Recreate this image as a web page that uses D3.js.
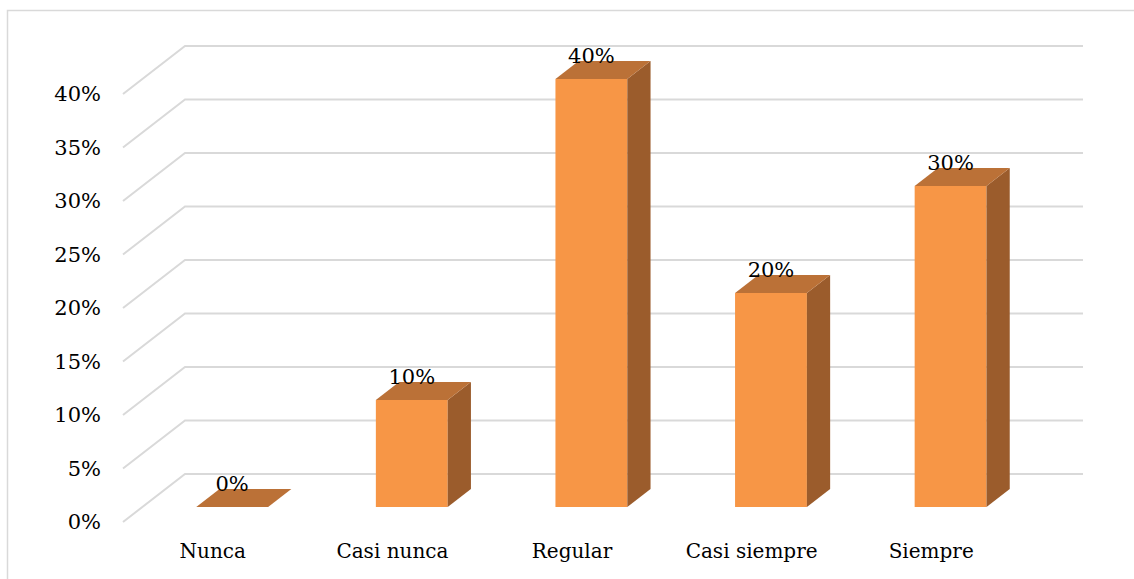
<!DOCTYPE html>
<html>
<head>
<meta charset="utf-8">
<script src="https://cdn.jsdelivr.net/npm/d3@7"></script>
<style>
  html, body { margin: 0; padding: 0; background: #ffffff; }
  svg { display: block; }
</style>
</head>
<body>
<svg id="chart" width="1134" height="579"></svg>
<script>
// Chart data
const categories = ["Nunca", "Casi nunca", "Regular", "Casi siempre", "Siempre"];
const values = [0, 0.10, 0.40, 0.20, 0.30];
const tickValues = [0, 0.05, 0.10, 0.15, 0.20, 0.25, 0.30, 0.35, 0.40];

const FONT = "'DejaVu Serif', serif";
const NUM_SIZE = 21;
const CAT_SIZE = 20;

const svg = d3.select("#chart");
const W = 1134, H = 579;

// Outer chart frame (top and left edges visible)
svg.append("path")
  .attr("d", `M7.5,${H} L7.5,10.5 L${W},10.5`)
  .attr("fill", "none")
  .attr("stroke", "#d9d9d9")
  .attr("stroke-width", 1.5);

// 3D geometry: front floor edge and depth offset of the back wall
const floorFrontY = 522;
const floorLeft = 123, floorRight = 1021;
const depthDX = 62, depthDY = -48;
// bars sit centered in depth, occupying this fraction of it
const barDepth = 18 / 48;
const barD0 = (1 - barDepth) / 2;

const x = d3.scaleBand().domain(categories).range([floorLeft, floorRight])
  .paddingInner(0.6).paddingOuter(0.3);
const xLabel = d3.scaleBand().domain(categories).range([floorLeft, floorRight]);
const h = d3.scaleLinear().domain([0, 0.4]).range([0, 428]);

const pct = d3.format(".0%");

// Gridlines: diagonal on the side wall + horizontal on the back wall
const grid = svg.append("g").attr("stroke", "#d9d9d9").attr("stroke-width", 2).attr("fill", "none");
tickValues.forEach(t => {
  const yf = floorFrontY - h(t);
  const yb = yf + depthDY;
  grid.append("path")
    .attr("d", `M${floorLeft},${yf} L${floorLeft + depthDX},${yb} L${floorRight + depthDX},${yb}`);
});

// Y-axis labels
svg.append("g").selectAll("text")
  .data(tickValues)
  .join("text")
  .attr("x", 101)
  .attr("y", d => floorFrontY - h(d))
  .attr("dy", "0.35em")
  .attr("text-anchor", "end")
  .attr("font-family", FONT)
  .attr("font-size", NUM_SIZE)
  .attr("fill", "#000")
  .text(d => pct(d));

// Category labels
svg.append("g").selectAll("text")
  .data(categories)
  .join("text")
  .attr("x", d => xLabel(d) + xLabel.bandwidth() / 2)
  .attr("y", 558)
  .attr("text-anchor", "middle")
  .attr("font-family", FONT)
  .attr("font-size", CAT_SIZE)
  .attr("fill", "#000")
  .text(d => d);

// Bars
const bdx = depthDX * barDepth, bdy = depthDY * barDepth;
const baseX = depthDX * barD0, baseY = floorFrontY + depthDY * barD0;

const bars = svg.append("g").selectAll("g")
  .data(categories.map((c, i) => ({ c, v: values[i] })))
  .join("g");

bars.each(function(d) {
  const g = d3.select(this);
  const xl = x(d.c) + baseX;
  const xr = xl + x.bandwidth();
  const yb = baseY;
  const yt = baseY - h(d.v);
  if (d.v > 0) {
    g.append("rect")
      .attr("x", xl).attr("y", yt)
      .attr("width", xr - xl).attr("height", yb - yt)
      .attr("fill", "#f79646");
    g.append("path")
      .attr("d", `M${xr},${yt} L${xr + bdx},${yt + bdy} L${xr + bdx},${yb + bdy} L${xr},${yb} Z`)
      .attr("fill", "#9b5c2c");
  }
  g.append("path")
    .attr("d", `M${xl},${yt} L${xr},${yt} L${xr + bdx},${yt + bdy} L${xl + bdx},${yt + bdy} Z`)
    .attr("fill", "#bb7137");
  g.append("text")
    .attr("x", (xl + xr) / 2)
    .attr("y", yt - 16)
    .attr("text-anchor", "middle")
    .attr("font-family", FONT)
    .attr("font-size", NUM_SIZE)
    .attr("fill", "#000")
    .text(pct(d.v));
});
</script>
</body>
</html>
